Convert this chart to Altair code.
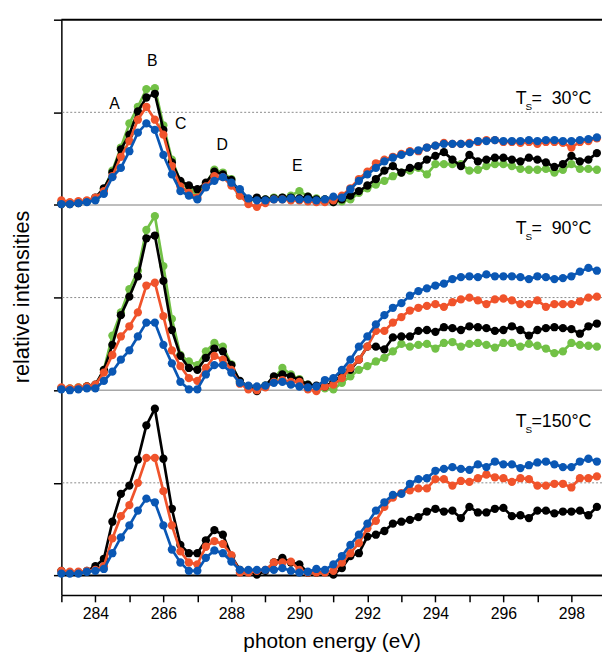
import altair as alt
import pandas as pd

# photon energy grid (eV)
energies = [283.00, 283.25, 283.50, 283.75, 284.00, 284.25, 284.50, 284.75,
            285.00, 285.25, 285.50, 285.75, 286.00, 286.25, 286.50, 286.75,
            287.00, 287.25, 287.50, 287.75, 288.00, 288.25, 288.50, 288.75,
            289.00, 289.25, 289.50, 289.75, 290.00, 290.25, 290.50, 290.75,
            291.00, 291.25, 291.50, 291.75, 292.00, 292.25, 292.50, 292.75,
            293.00, 293.25, 293.50, 293.75, 294.00, 294.25, 294.50, 294.75,
            295.00, 295.25, 295.50, 295.75, 296.00, 296.25, 296.50, 296.75,
            297.00, 297.25, 297.50, 297.75, 298.00, 298.25, 298.50, 298.75]

# ---- T_S = 30 °C ----
t30_green = [0.02, 0.02, 0.03, 0.04, 0.06, 0.17, 0.37, 0.62, 0.88, 1.06, 1.25, 1.26, 0.86, 0.49, 0.25, 0.17,
             0.12, 0.23, 0.38, 0.35, 0.28, 0.10, 0.05, 0.06, 0.06, 0.08, 0.08, 0.10, 0.15, 0.09, 0.07, 0.06,
             0.03, 0.04, 0.06, 0.13, 0.18, 0.22, 0.26, 0.31, 0.35, 0.37, 0.40, 0.33, 0.44, 0.44, 0.44, 0.44,
             0.37, 0.38, 0.42, 0.44, 0.44, 0.42, 0.39, 0.38, 0.38, 0.39, 0.35, 0.38, 0.44, 0.39, 0.39, 0.38]
t30_black = [0.01, 0.01, 0.02, 0.04, 0.08, 0.18, 0.35, 0.60, 0.76, 1.01, 1.16, 1.20, 0.81, 0.46, 0.26, 0.21,
             0.17, 0.24, 0.36, 0.33, 0.27, 0.13, 0.06, 0.08, 0.06, 0.07, 0.08, 0.08, 0.07, 0.09, 0.06, 0.06,
             0.03, 0.06, 0.10, 0.15, 0.21, 0.28, 0.37, 0.42, 0.35, 0.40, 0.42, 0.49, 0.53, 0.57, 0.49, 0.42,
             0.54, 0.47, 0.49, 0.51, 0.51, 0.49, 0.47, 0.51, 0.49, 0.46, 0.41, 0.44, 0.53, 0.47, 0.49, 0.56]
t30_red = [0.05, 0.03, 0.04, 0.05, 0.08, 0.15, 0.31, 0.52, 0.69, 0.92, 1.06, 0.92, 0.76, 0.42, 0.20, 0.13,
           0.08, 0.20, 0.31, 0.30, 0.21, 0.10, 0.01, -0.02, 0.02, 0.06, 0.06, 0.05, 0.05, 0.04, 0.03, 0.03,
           0.05, 0.10, 0.18, 0.28, 0.36, 0.45, 0.49, 0.52, 0.55, 0.58, 0.58, 0.62, 0.64, 0.67, 0.66, 0.66,
           0.67, 0.68, 0.70, 0.70, 0.68, 0.68, 0.67, 0.68, 0.66, 0.68, 0.68, 0.67, 0.62, 0.68, 0.69, 0.72]
t30_blue = [0.01, 0.01, 0.02, 0.03, 0.05, 0.12, 0.30, 0.40, 0.58, 0.78, 0.88, 0.81, 0.54, 0.33, 0.15, 0.10,
            0.06, 0.19, 0.26, 0.30, 0.24, 0.17, 0.07, 0.05, 0.05, 0.06, 0.06, 0.07, 0.06, 0.06, 0.05, 0.06,
            0.09, 0.08, 0.17, 0.26, 0.33, 0.40, 0.47, 0.51, 0.54, 0.57, 0.59, 0.62, 0.64, 0.66, 0.66, 0.66,
            0.66, 0.69, 0.69, 0.70, 0.69, 0.69, 0.69, 0.70, 0.69, 0.70, 0.70, 0.69, 0.69, 0.70, 0.71, 0.73]

# ---- T_S = 90 °C ----
t90_green = [0.02, 0.02, 0.03, 0.04, 0.05, 0.22, 0.59, 0.84, 1.09, 1.29, 1.73, 1.88, 1.34, 0.77, 0.38, 0.31,
             0.27, 0.42, 0.51, 0.47, 0.28, 0.09, 0.04, 0.02, 0.05, 0.12, 0.24, 0.17, 0.12, 0.06, 0.04, 0.02,
             0.01, 0.08, 0.15, 0.22, 0.26, 0.31, 0.35, 0.42, 0.50, 0.47, 0.49, 0.50, 0.45, 0.51, 0.52, 0.47,
             0.50, 0.51, 0.49, 0.46, 0.51, 0.51, 0.47, 0.50, 0.48, 0.45, 0.40, 0.42, 0.51, 0.49, 0.48, 0.47]
t90_black = [0.02, 0.01, 0.02, 0.04, 0.06, 0.22, 0.49, 0.81, 1.01, 1.23, 1.64, 1.67, 1.18, 0.65, 0.37, 0.24,
             0.22, 0.35, 0.45, 0.42, 0.27, 0.10, 0.04, -0.01, 0.05, 0.15, 0.17, 0.15, 0.11, 0.06, 0.05, 0.04,
             0.09, 0.16, 0.22, 0.33, 0.47, 0.47, 0.44, 0.57, 0.58, 0.58, 0.64, 0.65, 0.63, 0.68, 0.67, 0.65,
             0.69, 0.68, 0.67, 0.64, 0.65, 0.69, 0.65, 0.59, 0.65, 0.67, 0.68, 0.67, 0.66, 0.61, 0.69, 0.72]
t90_red = [0.03, 0.02, 0.03, 0.04, 0.06, 0.19, 0.38, 0.58, 0.69, 0.84, 1.13, 1.16, 0.80, 0.43, 0.26, 0.13,
           0.10, 0.24, 0.37, 0.33, 0.22, 0.07, 0.01, 0.00, 0.03, 0.09, 0.11, 0.09, 0.09, 0.01, -0.01, 0.04,
           0.06, 0.13, 0.24, 0.33, 0.47, 0.64, 0.64, 0.73, 0.79, 0.86, 0.89, 0.91, 0.93, 0.90, 0.95, 0.98,
           1.00, 0.97, 0.93, 0.98, 0.99, 0.97, 0.93, 0.93, 0.97, 0.90, 0.93, 0.93, 0.93, 0.96, 1.00, 1.01]
t90_blue = [0.01, 0.00, 0.01, 0.02, 0.02, 0.10, 0.20, 0.33, 0.43, 0.58, 0.73, 0.73, 0.49, 0.29, 0.09, 0.01,
            0.01, 0.17, 0.27, 0.27, 0.19, 0.08, 0.05, 0.04, 0.05, 0.08, 0.09, 0.06, 0.04, 0.03, 0.04, 0.11,
            0.13, 0.22, 0.33, 0.47, 0.58, 0.71, 0.81, 0.89, 0.94, 1.02, 1.07, 1.10, 1.13, 1.15, 1.20, 1.22,
            1.23, 1.22, 1.25, 1.23, 1.23, 1.23, 1.22, 1.20, 1.23, 1.22, 1.20, 1.21, 1.23, 1.28, 1.32, 1.29]

# ---- T_S = 150 °C ----
t150_black = [0.05, 0.03, 0.03, 0.05, 0.10, 0.18, 0.58, 0.88, 0.97, 1.25, 1.62, 1.80, 1.26, 0.72, 0.33, 0.24,
              0.24, 0.38, 0.49, 0.44, 0.21, 0.06, 0.05, 0.01, 0.05, 0.14, 0.19, 0.14, 0.12, 0.03, 0.03, 0.04,
              0.01, 0.08, 0.21, 0.24, 0.42, 0.44, 0.48, 0.56, 0.58, 0.60, 0.63, 0.69, 0.72, 0.69, 0.70, 0.62,
              0.74, 0.68, 0.68, 0.72, 0.73, 0.64, 0.65, 0.62, 0.70, 0.70, 0.67, 0.69, 0.69, 0.70, 0.65, 0.74]
t150_red = [0.05, 0.04, 0.04, 0.05, 0.06, 0.10, 0.40, 0.64, 0.76, 1.00, 1.27, 1.27, 0.91, 0.54, 0.26, 0.14,
            0.12, 0.31, 0.37, 0.34, 0.22, 0.03, 0.03, 0.05, 0.06, 0.14, 0.14, 0.15, 0.06, 0.03, 0.03, 0.03,
            0.05, 0.14, 0.24, 0.35, 0.51, 0.59, 0.74, 0.84, 0.89, 0.92, 0.94, 0.94, 1.04, 1.04, 0.97, 1.02,
            1.01, 1.05, 1.09, 1.06, 1.05, 1.01, 1.05, 1.04, 0.97, 0.97, 0.99, 0.99, 0.95, 1.05, 1.05, 1.07]
t150_blue = [0.02, 0.02, 0.02, 0.04, 0.05, 0.07, 0.24, 0.41, 0.54, 0.70, 0.83, 0.79, 0.54, 0.28, 0.14, 0.05,
             0.05, 0.19, 0.27, 0.24, 0.15, 0.06, 0.06, 0.06, 0.06, 0.06, 0.08, 0.05, 0.03, 0.04, 0.07, 0.06,
             0.12, 0.21, 0.33, 0.44, 0.56, 0.70, 0.79, 0.87, 0.88, 0.99, 1.04, 1.05, 1.13, 1.15, 1.17, 1.15,
             1.14, 1.20, 1.17, 1.23, 1.20, 1.20, 1.16, 1.19, 1.22, 1.23, 1.20, 1.17, 1.17, 1.23, 1.26, 1.23]

panel_names = ["30", "90", "150"]
panel_offsets = [4, 2, 0]
panel_labels = ["=\u00a0\u00a030°C", "=\u00a0\u00a090°C", "=150°C"]
panel_label_heights = [1.09, 1.69, 1.60]

series_names = ["green", "black", "red", "blue"]
series_colors = ["#72c146", "#000000", "#f0532b", "#0a57b4"]
series_data = {
    "30": {"green": t30_green, "black": t30_black, "red": t30_red, "blue": t30_blue},
    "90": {"green": t90_green, "black": t90_black, "red": t90_red, "blue": t90_blue},
    "150": {"black": t150_black, "red": t150_red, "blue": t150_blue},
}

peak_letters = ["A", "B", "C", "D", "E"]
peak_energies = [284.56, 285.67, 286.51, 287.73, 289.94]
peak_heights = [1.09, 1.55, 0.87, 0.65, 0.42]

rows = []
for pname, off in zip(panel_names, panel_offsets):
    for sname, vals in series_data[pname].items():
        for e, v in zip(energies, vals):
            rows.append({"E": e, "y": v + off, "panel": pname, "series": sname})
df = pd.DataFrame(rows)

FONT = "Liberation Sans"

x_enc = alt.X("E:Q",
              scale=alt.Scale(domain=[283, 298.9], nice=False, zero=False),
              axis=alt.Axis(values=list(range(283, 299)),
                            labelExpr="datum.value % 2 == 0 ? datum.label : ''",
                            grid=False, tickSize=7, tickColor="black", domainColor="black",
                            domainWidth=1.5, tickWidth=1.5,
                            labelFont=FONT, labelFontSize=16, labelColor="black",
                            labelPadding=4, labelFlush=False,
                            title="photon energy (eV)", titleFont=FONT, titleFontSize=21,
                            titleFontWeight="normal", titleColor="black", titlePadding=9))
y_enc = alt.Y("y:Q",
              scale=alt.Scale(domain=[-0.21, 6], nice=False, zero=False),
              axis=alt.Axis(values=[0, 1, 2, 3, 4, 5, 6], labels=False, grid=False,
                            tickSize=8, tickColor="black", domainColor="black",
                            domainWidth=1.5, tickWidth=1.5,
                            title="relative intensities", titleFont=FONT, titleFontSize=22,
                            titleFontWeight="normal", titleColor="black", titlePadding=19,
                            titleY=280))

layers = []

# reference lines
layers.append(alt.Chart(pd.DataFrame({"y": [1, 3, 5]})).mark_rule(
    color="#8a8a8a", strokeDash=[2, 2], strokeWidth=1).encode(y=y_enc))
layers.append(alt.Chart(pd.DataFrame({"y": [2, 4]})).mark_rule(
    color="#a8a8a8", strokeWidth=1.5).encode(y=y_enc))
layers.append(alt.Chart(pd.DataFrame({"y": [0, 6]})).mark_rule(
    color="black", strokeWidth=2).encode(y=y_enc))

for sname, scol in zip(series_names, series_colors):
    sub = df[df["series"] == sname]
    layers.append(alt.Chart(sub).mark_line(color=scol, strokeWidth=2.7).encode(
        x=x_enc, y=y_enc, detail="panel:N"))
    layers.append(alt.Chart(sub).mark_circle(color=scol, size=70, opacity=1).encode(
        x=x_enc, y=y_enc))

# peak letters
peaks_df = pd.DataFrame({"E": peak_energies, "y": [h + panel_offsets[0] for h in peak_heights],
                         "t": peak_letters})
layers.append(alt.Chart(peaks_df).mark_text(font=FONT, fontSize=16, color="black",
                                            baseline="middle", align="center").encode(
    x=x_enc, y=y_enc, text="t:N"))

# T_S labels
lab_df = pd.DataFrame({"E": [296.36] * 3,
                       "y": [h + o for h, o in zip(panel_label_heights, panel_offsets)],
                       "rest": panel_labels, "T": ["T"] * 3, "S": ["S"] * 3})
layers.append(alt.Chart(lab_df).mark_text(font=FONT, fontSize=18, color="black",
                                          baseline="alphabetic", align="left").encode(
    x=x_enc, y=y_enc, text="T:N"))
layers.append(alt.Chart(lab_df).mark_text(font=FONT, fontSize=10, color="black",
                                          baseline="alphabetic", align="left", dx=10, dy=6).encode(
    x=x_enc, y=y_enc, text="S:N"))
layers.append(alt.Chart(lab_df).mark_text(font=FONT, fontSize=18, color="black",
                                          baseline="alphabetic", align="left", dx=16).encode(
    x=x_enc, y=y_enc, text="rest:N"))

chart = alt.layer(*layers).properties(
    width=547, height=582,
    autosize=alt.AutoSizeParams(type="none"),
    padding={"left": 54, "top": 8, "right": 0, "bottom": 60},
).configure_view(stroke=None)

chart.save("out.html", embed_options={"renderer": "svg", "actions": False})
